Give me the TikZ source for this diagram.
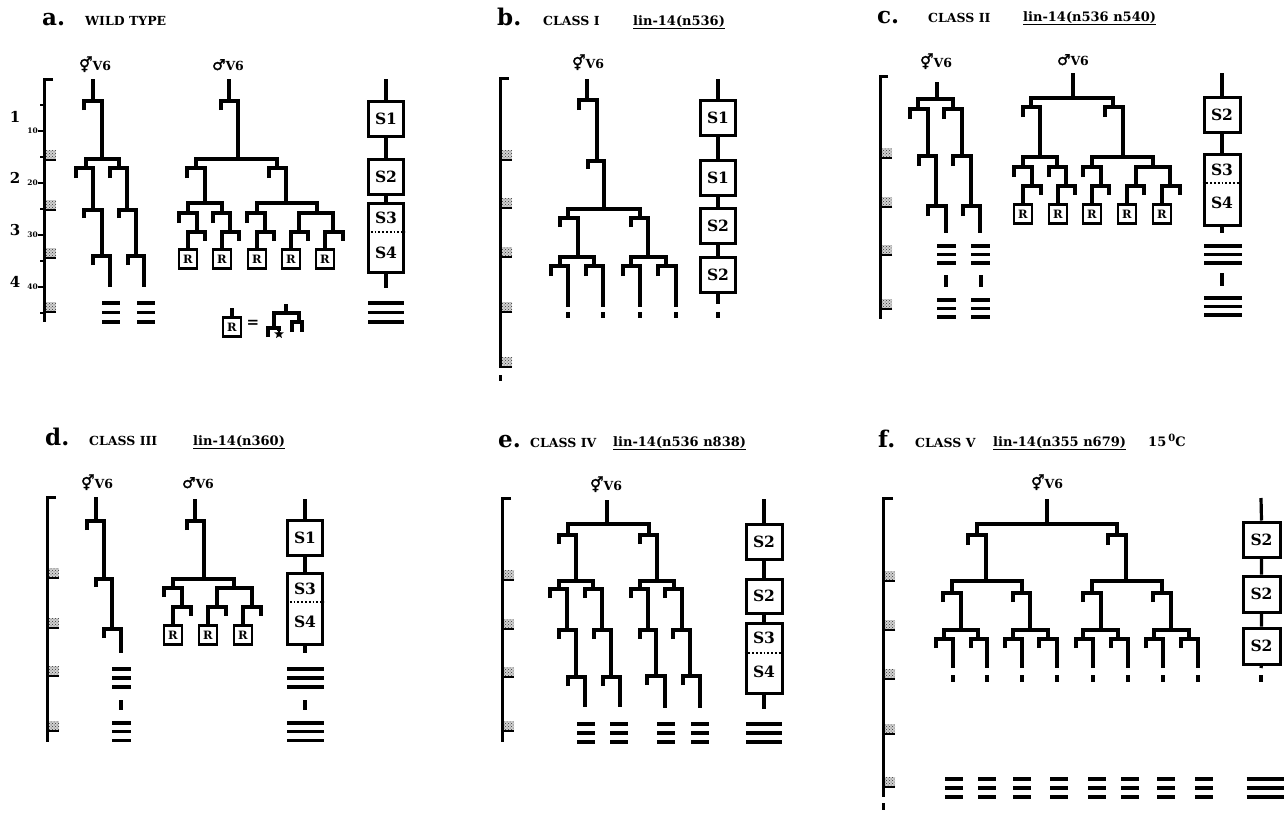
\documentclass[tikz,border=0pt]{standalone}
\usepackage{fontspec}
\setmainfont{DejaVu Serif}
\newfontfamily\symfont[FakeBold=2]{DejaVu Sans}
\usetikzlibrary{shapes.geometric,patterns}
\newcommand\hsym{{\symfont\mdseries\fontsize{15}{15}\selectfont ⚥}}
\newcommand\msym{{\symfont\mdseries\fontsize{15}{15}\selectfont ♂}}
% division: bar at height #1 from x=#2 to x=#3, left daughter ends at #4, right daughter ends at #5
\newcommand\dv[5]{\draw[lin] (#2,#4) |- (#3,#1) -- (#3,#5);}
% division whose left daughter is the R node #4, right daughter a short stub
\newcommand\dvr[4]{\draw[lin] (#4.north) |- (#3,#1) -- ++(0,9);}
% three seam cell bars: centre x, top y, width, spacing
\newcommand\seam[4]{\foreach \k in {0,1,2}{\draw[lin] ({#1-#3/2},{#2+#4*\k}) -- ++(#3,0);}}
% moult marker on a time axis: axis x, bottom y
\newcommand\molt[2]{\fill[black!18] ({#1+2},{#2-10}) rectangle ({#1+12},#2);
  \fill[pattern=crosshatch dots, pattern color=black!80] ({#1+2},{#2-10}) rectangle ({#1+12},#2);
  \draw[line width=2.2pt] (#1,#2) -- ({#1+12},#2);}
\tikzset{
  lin/.style={line width=3.2pt},
  axis/.style={line width=3pt},
  tk/.style={line width=1.8pt},
  sbox/.style={draw, line width=3pt, minimum width=35pt, minimum height=35pt, inner sep=0pt,
    font=\fontsize{15.5}{15.5}\selectfont\bfseries},
  tall/.style={sbox, minimum height=70pt},
  slab/.style={font=\fontsize{15.5}{15.5}\selectfont\bfseries, inner sep=0pt},
  rbox/.style={draw, line width=2.7pt, minimum width=18pt, minimum height=19pt, inner sep=0pt,
    anchor=north, font=\fontsize{11.5}{11.5}\selectfont\bfseries},
  panel/.style={font=\fontsize{23}{23}\selectfont\bfseries, inner sep=0pt, anchor=base west},
  cls/.style={font=\fontsize{12.5}{13}\selectfont\bfseries, inner sep=0pt, anchor=base west},
  allele/.style={font=\fontsize{13}{13}\selectfont\bfseries, inner sep=0pt, anchor=base west},
  cell/.style={font=\fontsize{12.5}{12.5}\selectfont\bfseries, inner sep=0pt, anchor=base},
  stage/.style={font=\fontsize{15}{15}\selectfont\bfseries, inner sep=0pt},
  hr/.style={font=\fontsize{7.5}{7.5}\selectfont\bfseries, inner sep=0pt, anchor=east},
}
\begin{document}
\begin{tikzpicture}[x=1pt,y=-1pt]
\useasboundingbox (0,0) rectangle (1286,812);

%================ a. wild type ================
\node[panel] (pa) at (42,25) {a.};
\node[cls] (ca) at (85,25) {WILD TYPE};
\node[cell] (ha) at (95,70) {\hsym V6};
\node[cell] (ma) at (228,70) {\msym V6};
% time axis with hours and larval stages
\draw[axis] (53,79) -- (44,79) -- (44,322);
\foreach \y in {105,157,209,261,313} \draw[tk] (40,\y) -- (44,\y);
\foreach \y/\t in {131/10,183/20,235/30,287/40}{
  \draw[tk] (38,\y) -- (44,\y);
  \node[hr] (h\t) at (38,\y) {\t};}
\node[stage] (st1) at (15,117) {1};
\node[stage] (st2) at (15,178) {2};
\node[stage] (st3) at (15,230) {3};
\node[stage] (st4) at (15,282) {4};
\foreach \y in {160,210,258,312} \molt{44}{\y};
% hermaphrodite V6
\draw[lin] (93,79) -- (93,101);
\dv{101}{84}{102}{110}{159}
\dv{159}{86}{119}{168}{168}
\dv{168}{76}{93}{178}{210}
\dv{168}{110}{127}{178}{210}
\dv{210}{84}{102}{218}{256}
\dv{210}{119}{136}{218}{256}
\dv{256}{93}{110}{265}{287}
\dv{256}{128}{144}{265}{287}
\seam{111}{303}{18}{9.5}
\seam{146}{303}{18}{9.5}
% male V6
\draw[lin] (229,79) -- (229,101);
\dv{101}{221}{238}{110}{159}
\dv{159}{196}{277}{168}{168}
\dv{168}{187}{205}{178}{203}
\dv{168}{269}{286}{178}{203}
\dv{203}{188}{222}{213}{213}
\dv{203}{257}{317}{213}{213}
\dv{213}{179}{197}{223}{232}
\dv{213}{213}{230}{223}{232}
\dv{213}{247}{265}{223}{232}
\dv{213}{299}{333}{232}{232}
\node[rbox] (ra1) at (188,248) {R};
\node[rbox] (ra2) at (222,248) {R};
\node[rbox] (ra3) at (257,248) {R};
\node[rbox] (ra4) at (291,248) {R};
\node[rbox] (ra5) at (325,248) {R};
\dvr{232}{188}{205}{ra1}
\dvr{232}{222}{239}{ra2}
\dvr{232}{257}{274}{ra3}
\dvr{232}{291}{308}{ra4}
\dvr{232}{325}{343}{ra5}
% key to the R sublineage
\node[rbox] (rk) at (232,316) {R};
\coordinate (rk0) at (232,308);
\draw[lin] (rk0) -- (rk.north);
\node[stage] (eq) at (253,324) {=};
\draw[lin] (286,304) -- (286,313);
\draw[lin] (274,328) |- (299,313) -- (299,322);
\draw[lin] (292,332) |- (302,322) -- (302,332);
\draw[lin] (268,337) |- (279,328) -- (279,331);
\node[star, star points=5, star point ratio=2.3, fill, minimum size=10pt, inner sep=0pt] (xk) at (279,334) {};
% stages of the seam cell lineage
\coordinate (a0) at (386,79);
\node[sbox] (a1) at (386,119) {S1};
\node[sbox] (a2) at (386,176.5) {S2};
\node[tall, minimum height=69pt] (a3) at (386,237.5) {};
\node[slab] (a3t) at (386,218) {S3};
\node[slab] (a3b) at (386,253) {S4};
\draw[dotted, line width=1.8pt] (a3.west |- 0,232) -- (a3.east |- 0,232);
\coordinate (a4) at (386,288);
\draw[lin] (a0) -- (a1.north) (a1.south) -- (a2.north) (a2.south) -- (a3.north) (a3.south) -- (a4);
\seam{386}{303}{36}{9.5}

%================ b. class I ================
\node[panel] (pb) at (497,25) {b.};
\node[cls] (cb) at (543,25) {CLASS I};
\node[allele] (lb) at (633,25) {\underline{lin-14(n536)}};
\node[cell] (hb) at (588,68) {\hsym V6};
\draw[axis] (509,78) -- (500,78) -- (500,368);
\draw[axis] (500,375) -- (500,381);
\foreach \y in {160,208,257,312,367} \molt{500}{\y};
\draw[lin] (587,79) -- (587,100);
\dv{100}{579}{597}{110}{161}
\dv{161}{588}{604}{169}{209}
\dv{209}{568}{640}{218}{218}
\dv{218}{560}{578}{227}{257}
\dv{218}{631}{648}{227}{257}
\dv{257}{560}{594}{266}{266}
\dv{266}{551}{568}{276}{307}
\dv{266}{586}{603}{276}{307}
\dv{257}{631}{666}{266}{266}
\dv{266}{623}{640}{276}{307}
\dv{266}{658}{676}{276}{307}
\foreach \x in {568,603,640,676,718} \draw[lin] (\x,312) -- (\x,318);
\coordinate (b0) at (718,79);
\node[sbox] (b1) at (718,118) {S1};
\node[sbox] (b2) at (718,177.5) {S1};
\node[sbox] (b3) at (718,226) {S2};
\node[sbox] (b4) at (718,274.5) {S2};
\coordinate (b5) at (718,304);
\draw[lin] (b0) -- (b1.north) (b1.south) -- (b2.north) (b2.south) -- (b3.north)
  (b3.south) -- (b4.north) (b4.south) -- (b5);

%================ c. class II ================
\node[panel] (pc) at (877,23) {c.};
\node[cls] (cc) at (928,22) {CLASS II};
\node[allele] (lc) at (1023,21) {\underline{lin-14(n536 n540)}};
\node[cell] (hc) at (936,67) {\hsym V6};
\node[cell] (mc) at (1073,65) {\msym V6};
\draw[axis] (888,76) -- (880,76) -- (880,319);
\foreach \y in {158,207,255,309} \molt{880}{\y};
% hermaphrodite V6
\draw[lin] (937,82) -- (937,99);
\dv{99}{918}{953}{109}{109}
\dv{109}{910}{928}{119}{156}
\dv{156}{919}{936}{166}{206}
\dv{206}{928}{946}{216}{233}
\dv{109}{944}{962}{119}{156}
\dv{156}{953}{971}{166}{206}
\dv{206}{963}{980}{216}{233}
\seam{946.5}{246}{19}{8.5}
\seam{980.5}{246}{19}{8.5}
\draw[lin] (946,275) -- (946,287);
\draw[lin] (981,275) -- (981,287);
\seam{946.5}{300}{19}{8.5}
\seam{980.5}{300}{19}{8.5}
% male V6
\draw[lin] (1073,73) -- (1073,98);
\dv{98}{1031}{1113}{107}{107}
\dv{107}{1023}{1040}{117}{157}
\dv{107}{1105}{1123}{117}{157}
\dv{157}{1023}{1057}{167}{167}
\dv{167}{1014}{1032}{177}{186}
\dv{167}{1049}{1066}{177}{186}
\dv{157}{1092}{1153}{167}{167}
\dv{167}{1083}{1101}{177}{186}
\dv{167}{1136}{1170}{186}{186}
\node[rbox] (rc1) at (1023,203) {R};
\node[rbox] (rc2) at (1058,203) {R};
\node[rbox] (rc3) at (1092,203) {R};
\node[rbox] (rc4) at (1127,203) {R};
\node[rbox] (rc5) at (1162,203) {R};
\dvr{186}{1023}{1041}{rc1}
\dvr{186}{1058}{1075}{rc2}
\dvr{186}{1092}{1109}{rc3}
\dvr{186}{1127}{1144}{rc4}
\dvr{186}{1162}{1180}{rc5}
% seam stages
\coordinate (c0) at (1222,73);
\node[sbox, minimum width=36pt] (c1) at (1222,115) {S2};
\node[tall, minimum width=36pt, minimum height=71pt] (c2) at (1222,189.5) {};
\node[slab] (c2t) at (1222,170) {S3};
\node[slab] (c2b) at (1222,203) {S4};
\draw[dotted, line width=1.8pt] (c2.west |- 0,183) -- (c2.east |- 0,183);
\coordinate (c3) at (1222,233);
\draw[lin] (c0) -- (c1.north) (c1.south) -- (c2.north) (c2.south) -- (c3);
\seam{1223}{246}{38}{8.5}
\draw[lin] (1222,273) -- (1222,286);
\seam{1223}{298}{38}{8.5}

%================ d. class III ================
\node[panel] (pd) at (45,445) {d.};
\node[cls] (cd) at (89,445) {CLASS III};
\node[allele] (ld) at (193,445) {\underline{lin-14(n360)}};
\node[cell] (hd) at (97,488) {\hsym V6};
\node[cell] (md) at (198,488) {\msym V6};
\draw[axis] (56,497) -- (47,497) -- (47,742);
\foreach \y in {578,628,676,731} \molt{47}{\y};
% hermaphrodite V6
\draw[lin] (96,497) -- (96,521);
\dv{521}{87}{104}{530}{579}
\dv{579}{96}{112}{587}{629}
\dv{629}{104}{121}{638}{653}
\seam{121.5}{669}{19}{9}
\draw[lin] (121,700) -- (121,710);
\seam{121.5}{723}{19}{8.7}
% male V6
\draw[lin] (195,499) -- (195,521);
\dv{521}{187}{204}{530}{579}
\dv{579}{173}{234}{588}{588}
\dv{588}{164}{182}{597}{607}
\dv{588}{217}{252}{607}{607}
\node[rbox] (rd1) at (173,624) {R};
\node[rbox] (rd2) at (208,624) {R};
\node[rbox] (rd3) at (243,624) {R};
\dvr{607}{173}{191}{rd1}
\dvr{607}{208}{226}{rd2}
\dvr{607}{243}{261}{rd3}
% seam stages
\coordinate (d0) at (305,499);
\node[sbox] (d1) at (305,538) {S1};
\node[tall, minimum height=71pt] (d2) at (305,608.5) {};
\node[slab] (d2t) at (305,589) {S3};
\node[slab] (d2b) at (305,622) {S4};
\draw[dotted, line width=1.8pt] (d2.west |- 0,602) -- (d2.east |- 0,602);
\coordinate (d3) at (305,653);
\draw[lin] (d0) -- (d1.north) (d1.south) -- (d2.north) (d2.south) -- (d3);
\seam{305.5}{669}{37}{9}
\draw[lin] (305,700) -- (305,710);
\seam{305.5}{723}{37}{8.7}

%================ e. class IV ================
\node[panel] (pe) at (498,447) {e.};
\node[cls] (ce) at (530,447) {CLASS IV};
\node[allele] (le) at (613,446) {\underline{lin-14(n536 n838)}};
\node[cell] (he) at (606,490) {\hsym V6};
\draw[axis] (511,498) -- (502,498) -- (502,742);
\foreach \y in {580,629,677,731} \molt{502}{\y};
\draw[lin] (607,500) -- (607,524);
\dv{524}{568}{649}{535}{535}
\dv{535}{559}{576}{544}{581}
\dv{535}{640}{657}{544}{581}
\dv{581}{559}{593}{589}{589}
\dv{589}{550}{567}{598}{630}
\dv{630}{559}{576}{639}{677}
\dv{677}{568}{585}{686}{707}
\dv{589}{585}{602}{598}{630}
\dv{630}{594}{611}{639}{677}
\dv{677}{603}{620}{686}{707}
\dv{581}{640}{674}{589}{589}
\dv{589}{631}{648}{598}{630}
\dv{630}{640}{656}{639}{676}
\dv{676}{647}{665}{685}{708}
\dv{589}{665}{682}{598}{630}
\dv{630}{673}{690}{639}{676}
\dv{676}{683}{700}{685}{708}
\foreach \x in {586,619,666,700} \seam{\x}{724}{18}{9};
\coordinate (e0) at (764,499);
\node[sbox, minimum width=36pt] (e1) at (764,541.5) {S2};
\node[sbox, minimum width=36pt, minimum height=34pt] (e2) at (764,596) {S2};
\node[tall, minimum width=36pt] (e3) at (764,658) {};
\node[slab] (e3t) at (764,638) {S3};
\node[slab] (e3b) at (764,672) {S4};
\draw[dotted, line width=1.8pt] (e3.west |- 0,653) -- (e3.east |- 0,653);
\coordinate (e4) at (764,709);
\draw[lin] (e0) -- (e1.north) (e1.south) -- (e2.north) (e2.south) -- (e3.north) (e3.south) -- (e4);
\seam{764}{724}{36}{9}

%================ f. class V ================
\node[panel] (pf) at (878,447) {f.};
\node[cls] (cf) at (915,447) {CLASS V};
\node[allele] (lf) at (993,446) {\underline{lin-14(n355 n679)}};
\node[allele] (tf) at (1148,446) {15\,\raisebox{5pt}{\fontsize{10}{10}\selectfont 0}C};
\node[cell] (hf) at (1047,488) {\hsym V6};
\draw[axis] (893,498) -- (883,498) -- (883,797);
\draw[axis] (883,803) -- (883,810);
\foreach \y in {581,630,679,734,787} \molt{883}{\y};
\draw[lin] (1047,499) -- (1047,524);
\dv{524}{977}{1117}{535}{535}
\dv{535}{968}{986}{545}{581}
\dv{535}{1108}{1126}{545}{581}
\dv{581}{952}{1022}{593}{593}
\dv{593}{943}{961}{602}{630}
\dv{593}{1013}{1030}{602}{630}
\dv{581}{1092}{1162}{593}{593}
\dv{593}{1083}{1101}{602}{630}
\dv{593}{1153}{1171}{602}{630}
\dv{630}{944}{978}{639}{639}
\dv{639}{936}{953}{648}{668}
\dv{639}{971}{987}{648}{668}
\dv{630}{1013}{1048}{639}{639}
\dv{639}{1005}{1022}{648}{668}
\dv{639}{1039}{1057}{648}{668}
\dv{630}{1083}{1118}{639}{639}
\dv{639}{1076}{1093}{648}{668}
\dv{639}{1111}{1128}{648}{668}
\dv{630}{1154}{1189}{639}{639}
\dv{639}{1146}{1163}{648}{668}
\dv{639}{1181}{1198}{648}{668}
\foreach \x in {953,987,1022,1057,1093,1128,1163,1198,1261} \draw[lin] (\x,675) -- (\x,682);
\foreach \x in {954,987,1022,1059,1097,1130,1166,1204} \seam{\x}{779}{18}{9};
\coordinate (f0) at (1261,498);
\node[sbox, minimum width=37pt] (f1) at (1261.5,539.5) {S2};
\node[sbox, minimum width=37pt, minimum height=36pt] (f2) at (1261.5,594) {S2};
\node[sbox, minimum width=37pt, minimum height=36pt] (f3) at (1261.5,646) {S2};
\coordinate (f4) at (1261,668);
\draw[lin] (f0) -- (f1.north) (f1.south) -- (f2.north) (f2.south) -- (f3.north) (f3.south) -- (f4);
\seam{1265}{779}{37}{9}
\end{tikzpicture}
\end{document}
